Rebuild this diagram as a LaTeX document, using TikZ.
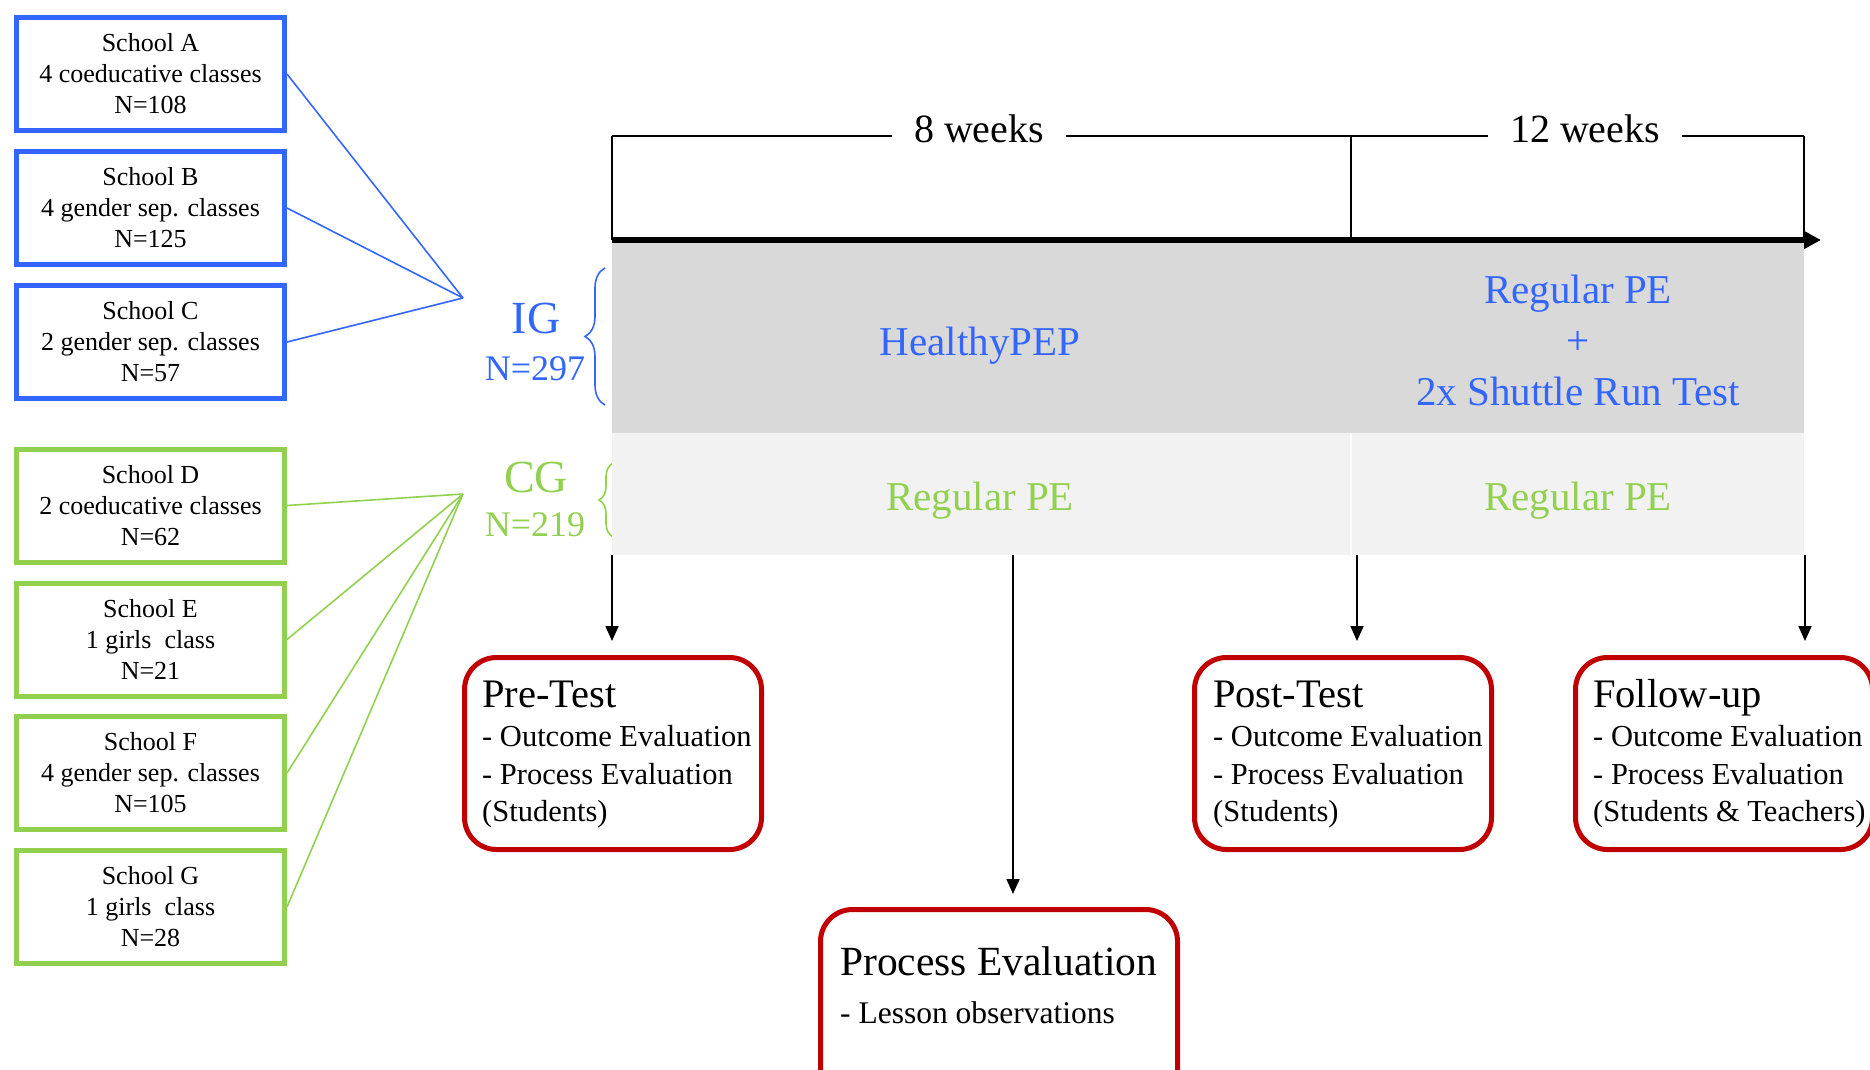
\documentclass[tikz,border=0pt]{standalone}
\usepackage{fontspec}
\setmainfont{Liberation Serif}
\usetikzlibrary{arrows.meta,decorations.pathreplacing}

\definecolor{igblue}{HTML}{3366FF}
\definecolor{cggreen}{HTML}{92D050}
\definecolor{boxred}{HTML}{C00000}
\definecolor{igband}{HTML}{D9D9D9}
\definecolor{cgband}{HTML}{F2F2F2}

\newcommand{\setfs}[2]{\fontsize{#1}{#2}\selectfont}

\begin{document}
\begin{tikzpicture}[x=1pt,y=-1pt,
  school/.style={draw, line width=5pt, minimum width=268pt, minimum height=113pt,
    inner sep=0pt, align=center, font={\setfs{26}{31}}},
  igschool/.style={school, draw=igblue},
  cgschool/.style={school, draw=cggreen},
  feed/.style={line width=1.6pt},
  grouplbl/.style={inner sep=0pt, font={\setfs{46}{50}}},
  groupn/.style={inner sep=0pt, font={\setfs{36}{40}}},
  groupbrace/.style={line width=1.6pt, decorate},
  bandtxt/.style={anchor=base, inner sep=0pt, font={\setfs{41}{50}}},
  weeks/.style={anchor=base, fill=white, inner xsep=22pt, inner ysep=3pt, font={\setfs{40}{48}}},
  span/.style={line width=2pt},
  evalbox/.style={draw=boxred, line width=5pt, rounded corners=32pt,
    minimum height=192pt, inner sep=0pt},
  evtitle/.style={anchor=base west, inner sep=0pt, font={\setfs{40.5}{48}}},
  evline/.style={anchor=base west, inner sep=0pt, font={\setfs{30.5}{36}}},
  down/.style={line width=1.8pt, -{Triangle[length=15pt,width=13pt]}},
]
\useasboundingbox (0,0) rectangle (1870,1069);

% ---------- schools ----------
\node[igschool] (sa) at (150.5,74)  {School A\\4 coeducative classes\\N=108};
\node[igschool] (sb) at (150.5,208) {School B\\4 gender sep. classes\\N=125};
\node[igschool] (sc) at (150.5,342) {School C\\2 gender sep. classes\\N=57};
\node[cgschool] (sd) at (150.5,505.5) {School D\\2 coeducative classes\\N=62};
\node[cgschool] (se) at (150.5,639.5) {School E\\1 girls\enspace class\\N=21};
\node[cgschool] (sf) at (150.5,773)   {School F\\4 gender sep. classes\\N=105};
\node[cgschool] (sg) at (150.5,907)   {School G\\1 girls\enspace class\\N=28};

\coordinate (igpt) at (463,298);
\coordinate (cgpt) at (463,494);
\foreach \s in {sa,sb,sc} \draw[feed, igblue] (\s.east) -- (igpt);
\foreach \s in {sd,se,sf,sg} \draw[feed, cggreen] (\s.east) -- (cgpt);

% ---------- groups ----------
\node[grouplbl, text=igblue] (ig)  at (536,318) {IG};
\node[groupn,   text=igblue] (ign) at (535,369) {N=297};
\node[grouplbl, text=cggreen] (cg)  at (536,477) {CG};
\node[groupn,   text=cggreen] (cgn) at (535,525) {N=219};

\coordinate (igb0) at (605,405);
\coordinate (igb1) at (605,268);
\coordinate (cgb0) at (613,537);
\coordinate (cgb1) at (613,463);
\draw[groupbrace, igblue, decoration={brace, amplitude=20pt, aspect=0.5}] (igb0) -- (igb1);
\draw[groupbrace, cggreen, decoration={brace, amplitude=14pt, aspect=0.5}] (cgb0) -- (cgb1);

% ---------- study phases ----------
\fill[igband] (612,240) rectangle (1804,433);
\fill[cgband] (612,433) rectangle (1804,555);
\draw[white, line width=2pt] (1351,433) -- (1351,555);

\node[bandtxt, text=igblue] (hpep) at (980,355) {HealthyPEP};
\node[bandtxt, text=igblue] (rpe)  at (1578,303) {Regular PE};
\node[bandtxt, text=igblue] (plus) at (1578,354) {+};
\node[bandtxt, text=igblue] (srt)  at (1578,405) {2x Shuttle Run Test};
\node[bandtxt, text=cggreen] (cg1) at (980,510)  {Regular PE};
\node[bandtxt, text=cggreen] (cg2) at (1578,510) {Regular PE};

% ---------- time line ----------
\coordinate (t0) at (612,136);
\coordinate (t1) at (1351,136);
\coordinate (t2) at (1804,136);
\coordinate (a0) at (612,240);
\coordinate (a1) at (1351,240);
\coordinate (a2) at (1804,240);
\coordinate (aend) at (1821,240);
\draw[span] (t0) -- (t2);
\draw[span] (t0) -- (a0);
\draw[line width=1.4pt] (t1) -- (a1);
\draw[span] (t2) -- (a2);
\node[weeks] (w8)  at (979,142)  {8 weeks};
\node[weeks] (w12) at (1585,142) {12 weeks};
\draw[line width=6pt, -{Triangle[length=17pt,width=17pt]}] (a0) -- (aend);

% ---------- measurement points ----------
\node[evalbox, minimum width=297pt] (pre)  at (613,753.5)  {};
\node[evalbox, minimum width=297pt] (post) at (1343,753.5) {};
\node[evalbox, minimum width=297pt] (fol)  at (1724,753.5) {};
\node[evalbox, minimum width=357pt] (proc) at (999,1005.5) {};

\node[evtitle] (pret) at (482,707) {Pre-Test};
\node[evline]  (pre1) at (482,746) {- Outcome Evaluation};
\node[evline]  (pre2) at (482,784) {- Process Evaluation};
\node[evline]  (pre3) at (482,821) {(Students)};

\node[evtitle] (postt) at (1213,707) {Post-Test};
\node[evline]  (post1) at (1213,746) {- Outcome Evaluation};
\node[evline]  (post2) at (1213,784) {- Process Evaluation};
\node[evline]  (post3) at (1213,821) {(Students)};

\node[evtitle] (folt) at (1593,707) {Follow-up};
\node[evline]  (fol1) at (1593,746) {- Outcome Evaluation};
\node[evline]  (fol2) at (1593,784) {- Process Evaluation};
\node[evline]  (fol3) at (1593,821) {(Students \& Teachers)};

\node[evtitle, font={\setfs{41.5}{48}}] (proct) at (840,975) {Process Evaluation};
\node[evline,  font={\setfs{31.5}{36}}] (proc1) at (840,1023) {- Lesson observations};

\coordinate (d1) at (612,555);
\coordinate (d2) at (1013,555);
\coordinate (d3) at (1357,555);
\coordinate (d4) at (1805,555);
\draw[down, shorten >=14pt] (d1) -- (d1 |- pre.north);
\draw[down, shorten >=13pt] (d2) -- (d2 |- proc.north);
\draw[down, shorten >=14pt] (d3) -- (d3 |- post.north);
\draw[down, shorten >=14pt] (d4) -- (d4 |- fol.north);
\end{tikzpicture}
\end{document}
